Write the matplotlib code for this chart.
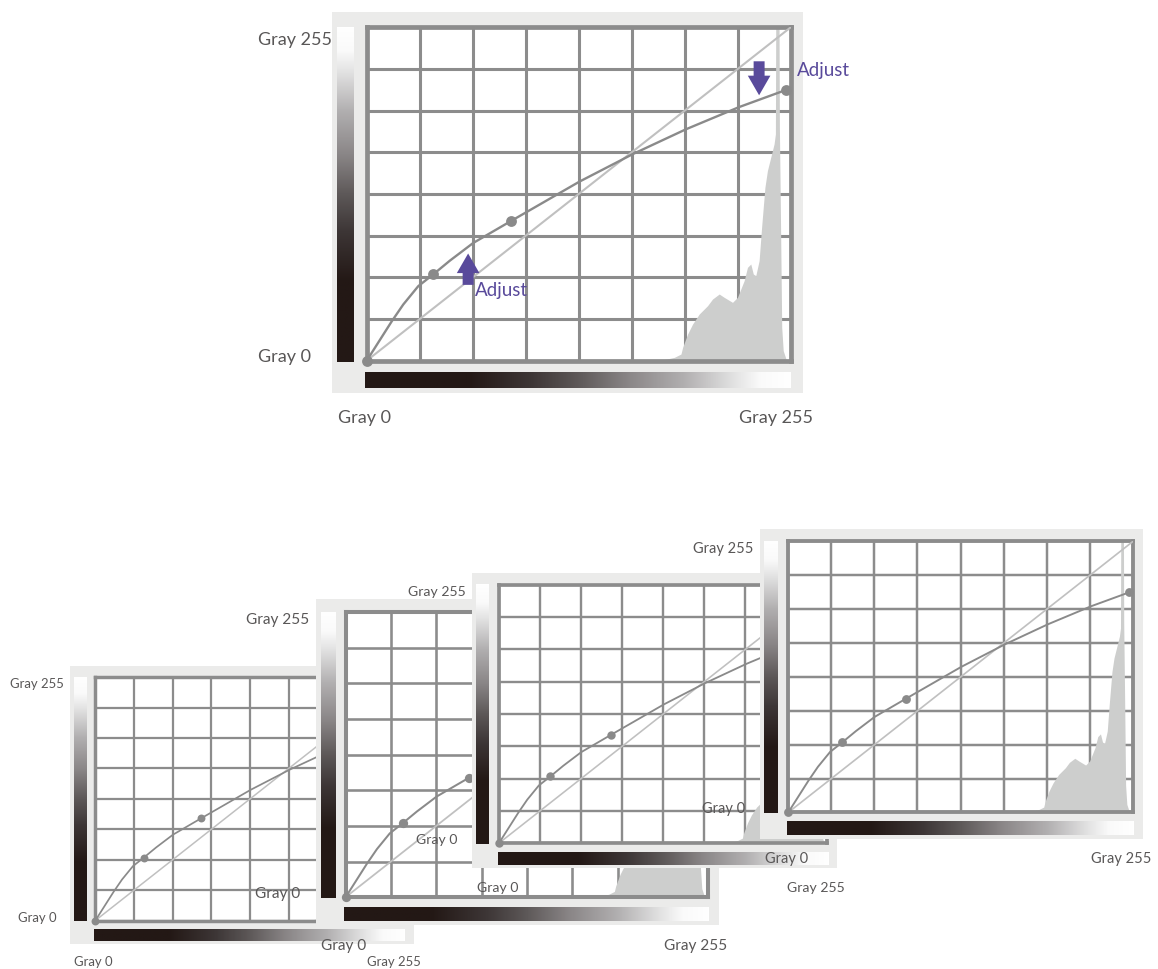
import numpy as np
import matplotlib
matplotlib.use("Agg")
import matplotlib.pyplot as plt
from matplotlib.colors import LinearSegmentedColormap

plt.rcParams['font.family'] = ['Lato', 'DejaVu Sans']

# tone curve (input gray level -> output gray level)
curve_x = [0, 4, 8, 15, 22, 31, 40, 50, 64, 87, 100, 128, 160, 192, 224, 252]
curve_y = [0, 8, 16, 30, 43, 57, 66, 76.5, 90, 107, 116.5, 137, 158, 177, 194, 207]
point_x = [0, 40, 87, 252]
point_y = [0, 66, 107, 207]

# histogram of the picture: gray level and height as share of the plot
hist_level = [176, 185, 189, 190, 193, 196, 200, 205, 208, 212, 215, 220, 223, 227,
              229, 231, 232.5, 234, 236, 237.5, 239.5, 241, 243, 245, 245.8, 246.0,
              248.0, 248.2, 248.8, 249.6, 250.5, 252.5]
hist_height = [0, 0.01, 0.02, 0.04, 0.08, 0.11, 0.14, 0.165, 0.185, 0.2, 0.19, 0.175,
               0.19, 0.24, 0.28, 0.29, 0.26, 0.255, 0.3, 0.4, 0.52, 0.57, 0.61, 0.65,
               0.68, 1.0, 1.0, 0.7, 0.45, 0.1, 0.03, 0]

# the two "Adjust" arrows: x, tail y, tip y
adjust_x = [61, 236]
adjust_from = [58, 229]
adjust_to = [82, 203]

label_low = 'Gray 0'
label_high = 'Gray 255'
adjust_label = 'Adjust'

W, H = 1158, 969
BG = '#ebebea'
FRAME = '#8c8c8c'
CURVE = '#8a8a8a'
DIAG = '#c0c0c0'
HIST = '#cdcecd'
PURPLE = '#594a9b'
TXT = '#595757'

ramp = LinearSegmentedColormap.from_list('ramp', [
    (0, '#231815'), (0.24, '#231815'), (0.39, '#3d3636'), (0.5, '#5d5858'),
    (0.62, '#8a8687'), (0.75, '#b1afb0'), (0.87, '#e3e3e3'), (0.93, '#fafafa'),
    (1, '#ffffff')])

# panel placement in pixels: left, top, scale, main panel?
panels = [(332, 12, 1.0, True),
          (70, 666, 0.73, False),
          (316, 599, 0.855, False),
          (472, 573, 0.775, False),
          (760, 529, 0.813, False)]

fig = plt.figure(figsize=(W / 100, H / 100), dpi=100)


def px_axes(x, y, w, h, z):
    return fig.add_axes([x / W, 1 - (y + h) / H, w / W, h / H], zorder=z)


def bare(ax):
    ax.set_xticks([])
    ax.set_yticks([])
    for sp in ax.spines.values():
        sp.set_visible(False)


def draw_panel(left, top, s, main, z):
    bg = px_axes(left, top, 471 * s, 381 * s, z)
    bg.set_facecolor(BG)
    bare(bg)

    vbar = px_axes(left + 5.3 * s, top + 14.7 * s, 16.7 * s, 335 * s, z + 1)
    vbar.imshow(np.linspace(1, 0, 256)[:, None], cmap=ramp, aspect='auto', vmin=0, vmax=1)
    vbar.set_axis_off()
    hbar = px_axes(left + 33 * s, top + 359.7 * s, 426 * s, 16.6 * s, z + 1)
    hbar.imshow(np.linspace(0, 1, 256)[None, :], cmap=ramp, aspect='auto', vmin=0, vmax=1)
    hbar.set_axis_off()

    ax = px_axes(left + 34.7 * s, top + 15.3 * s, 424 * s, 333.4 * s, z + 2)
    ax.set_facecolor('white')
    ax.set_xlim(0, 255)
    ax.set_ylim(0, 255)
    ticks = np.arange(0, 256, 255 / 8)
    ax.set_xticks(ticks)
    ax.set_yticks(ticks)
    ax.tick_params(length=0, labelbottom=False, labelleft=False)
    ax.set_axisbelow(True)
    ax.grid(True, color=FRAME, lw=2.2 * s)
    for sp in ax.spines.values():
        sp.set_color(FRAME)
        sp.set_linewidth(3.4 * s)

    ax.fill_between(hist_level, np.array(hist_height) * 255, color=HIST, lw=0, zorder=1)
    ax.plot([0, 255], [0, 255], color=DIAG, lw=1.5 * s, zorder=3)
    ax.plot(curve_x, curve_y, color=CURVE, lw=1.7 * s, zorder=4,
            solid_capstyle='round', clip_on=False)
    ax.plot(point_x, point_y, 'o', color=CURVE, ms=7.8 * s, mew=0, zorder=5, clip_on=False)

    fs = 13 * s
    if main:
        lx, ha, y255 = -74, 'left', 28
        for x, y0, y1 in zip(adjust_x, adjust_from, adjust_to):
            ax.arrow(x, y0, 0, y1 - y0, width=6.6, head_width=13.6, head_length=15,
                     length_includes_head=True, color=PURPLE, lw=0, zorder=6, clip_on=False)
        ax.text(adjust_x[0] + 4, adjust_from[0] - 4, adjust_label, color=PURPLE,
                fontsize=13.5, ha='left', va='center', zorder=7)
        ax.text(adjust_x[1] + 23, adjust_from[1] - 7, adjust_label, color=PURPLE,
                fontsize=13.5, ha='left', va='center', zorder=7, clip_on=False)
    else:
        lx, ha, y255 = -45, 'center', 24.6

    def put(rx, ry, txt, align):
        fig.text((left + rx * s) / W, 1 - (top + ry * s) / H, txt, ha=align,
                 va='center', fontsize=fs, color=TXT, zorder=z + 3)

    put(lx, y255, label_high, ha)
    put(lx, 345, label_low, ha)
    put(6, 406, label_low, 'left')
    put(481, 406, label_high, 'right')


for i, (left, top, s, main) in enumerate(panels):
    draw_panel(left, top, s, main, 10 * i)

fig.savefig('out.png', dpi=100)
